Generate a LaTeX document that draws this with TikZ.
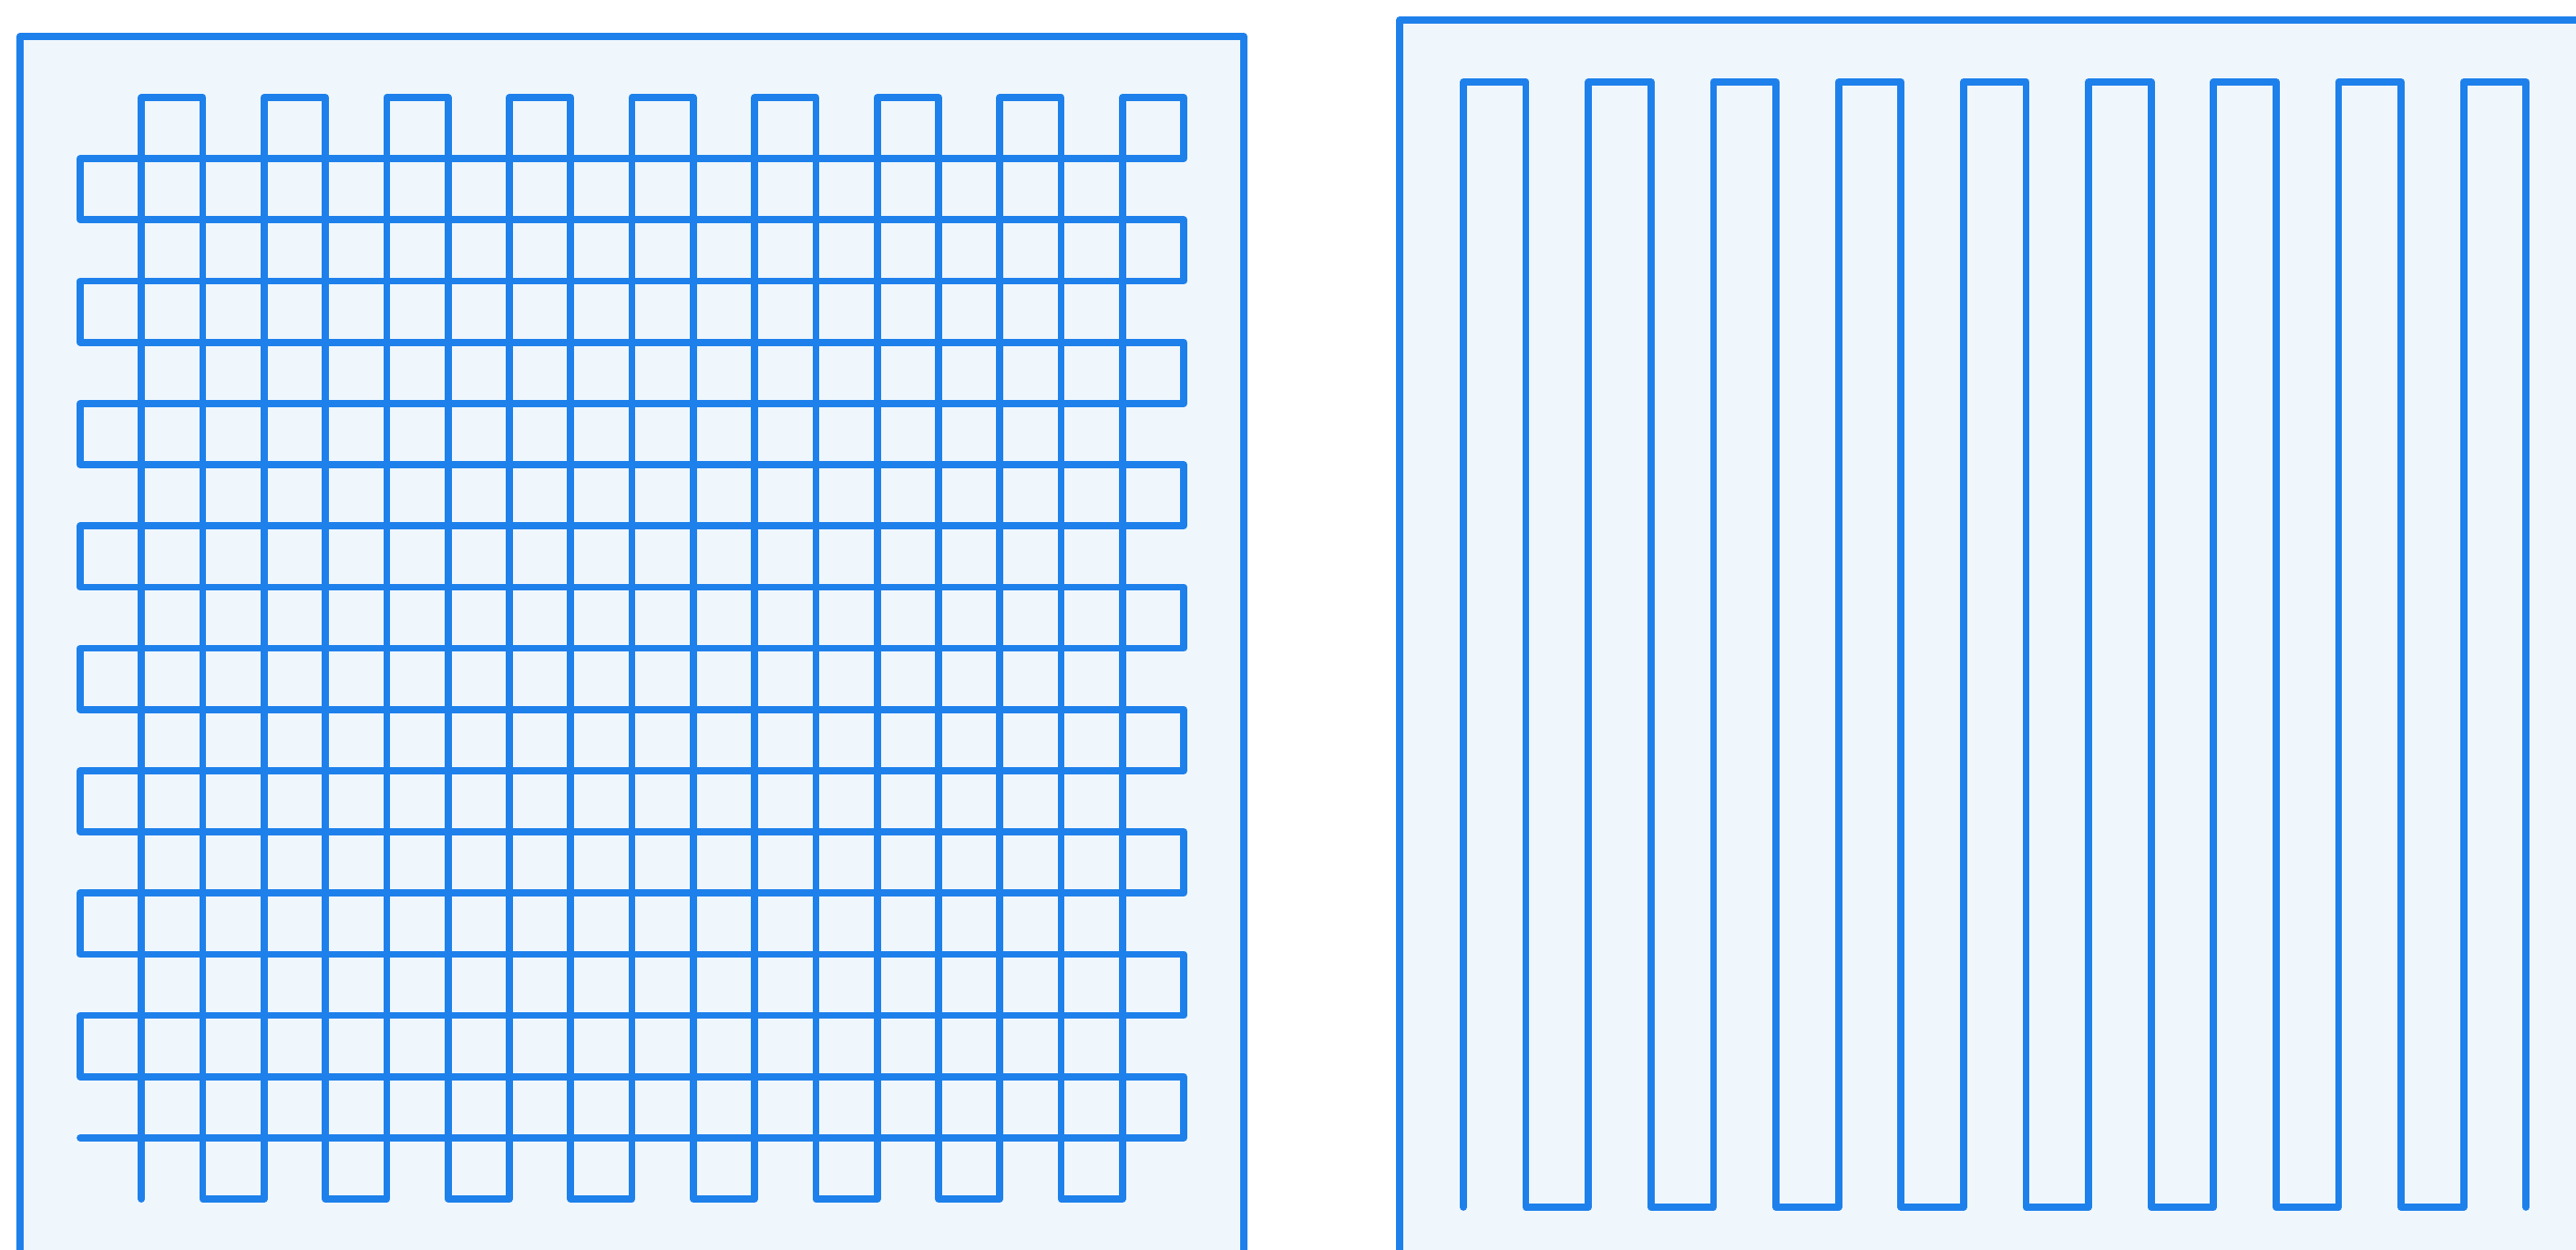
\documentclass[tikz,border=0pt]{standalone}
\usepackage{xcolor}
\definecolor{lineblue}{RGB}{30,128,235}
\definecolor{panelfill}{RGB}{239,247,253}
\tikzset{
  panel/.style={draw=lineblue, fill=panelfill, line width=2.2pt, line join=round},
  route/.style={draw=lineblue, line width=2.2pt, line join=round, line cap=round}
}
\begin{document}
\begin{tikzpicture}
\useasboundingbox (0,0) rectangle (28.27,-13.71);
\clip (0,0) rectangle (28.27,-13.71);
% panels
\path[panel] (0.22,-0.40) rectangle (13.65,-14.6);
\path[panel] (15.36,-0.22) rectangle (29.0,-14.6);
% left: crisscross route
\begin{scope}[shift={(0.88,-1.07)}, x=0.6728cm, y=-0.6717cm]
\path[route] (1,18)
  \foreach \i in {1,3,...,15} { -- (\i,0) -- ({\i+1},0) -- ({\i+1},18) -- ({\i+2},18) }
  -- (17,0) -- (18,0) -- (18,1)
  \foreach \j in {1,3,...,15} { -- (0,\j) -- (0,{\j+1}) -- (18,{\j+1}) -- (18,{\j+2}) }
  -- (0,17);
\end{scope}
% right: parallel route
\begin{scope}[shift={(16.06,-0.90)}, x=0.686cm, y=1cm]
\path[route] (0,-12.35)
  \foreach \k in {0,2,...,14} { -- (\k,0) -- ({\k+1},0) -- ({\k+1},-12.35) -- ({\k+2},-12.35) }
  -- (16,0) -- (17,0) -- (17,-12.35);
\end{scope}
\end{tikzpicture}
\end{document}
